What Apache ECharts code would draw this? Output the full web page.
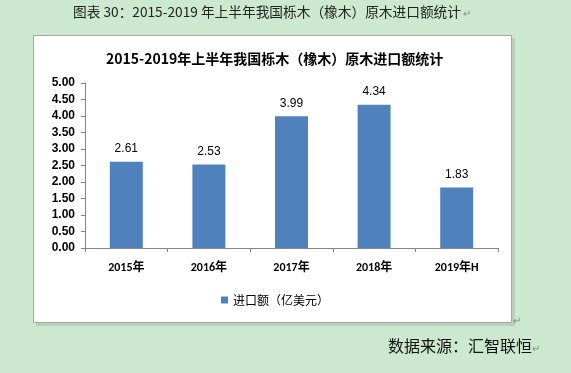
<!DOCTYPE html>
<html><head><meta charset="utf-8">
<script src="https://cdn.jsdelivr.net/npm/echarts@6/dist/echarts.min.js"></script>
<style>html,body{margin:0;padding:0;background:#cce8cf;}#c{width:571px;height:373px;}</style>
</head><body><div id="c"></div>
<script>
const categories = ['2015年','2016年','2017年','2018年','2019年H'];
const values = [2.61, 2.53, 3.99, 4.34, 1.83];
const seriesName = '进口额（亿美元）';
const chartTitle = '2015-2019年上半年我国栎木（橡木）原木进口额统计';
const caption = '图表 30：2015-2019 年上半年我国栎木（橡木）原木进口额统计';
const source = '数据来源：汇智联恒';
const yMin = 0, yMax = 5, yStep = 0.5;

const cjk = '"Noto Sans CJK SC", sans-serif';
const chart = echarts.init(document.getElementById('c'), null, {renderer:'canvas'});
chart.setOption({
  backgroundColor: '#cce8cf',
  animation: false,
  graphic: [
    {type:'rect', shape:{x:36, y:38, width:479, height:288}, style:{fill:'#b9cfbb'}, z:-2},
    {type:'rect', shape:{x:33.5, y:35.5, width:478, height:287}, style:{fill:'#ffffff', stroke:'#a6a6a6', lineWidth:1}, z:-1},
    {type:'text', left:73, top:5, style:{text:caption, font:'13.7px ' + cjk, fill:'#222'}},
    {type:'text', left:463, top:8, style:{text:'↵', font:'10px ' + cjk, fill:'#8a8a8a'}},
    {type:'text', left:388, top:338, style:{text:source, font:'16px ' + cjk, fill:'#111'}},
    {type:'text', left:532, top:343, style:{text:'↵', font:'10px ' + cjk, fill:'#8a8a8a'}},
    {type:'text', left:513, top:315, style:{text:'↵', font:'10px ' + cjk, fill:'#8a8a8a'}}
  ],
  title: {
    text: chartTitle, left: 101, top: 47,
    textStyle: {fontFamily: cjk, fontSize: 14, fontWeight: 'bold', color: '#000'}
  },
  grid: {left: 85, right: 73, top: 83, bottom: 125, containLabel: false},
  legend: {
    bottom: 62, left: 216, itemWidth: 7, itemHeight: 7, itemGap: 4,
    icon: 'rect',
    textStyle: {fontFamily: cjk, fontSize: 12, color: '#000'},
    data: [seriesName]
  },
  xAxis: {
    type: 'category', data: categories,
    axisLine: {lineStyle: {color: '#868686'}},
    axisTick: {show: true, length: 4, lineStyle: {color: '#868686'}},
    axisLabel: {fontFamily: 'Calibri, "Liberation Sans", ' + cjk, fontSize: 12, fontWeight: 'bold', color: '#000', margin: 14}
  },
  yAxis: {
    type: 'value', min: yMin, max: yMax, interval: yStep,
    axisLine: {show: true, lineStyle: {color: '#868686'}},
    axisTick: {show: true, length: 4, lineStyle: {color: '#868686'}},
    splitLine: {show: false},
    axisLabel: {fontFamily: '"Liberation Sans", sans-serif', fontSize: 12, fontWeight: 'bold', color: '#000', margin: 10,
      formatter: v => v.toFixed(2)}
  },
  series: [{
    name: seriesName, type: 'bar', data: values, barWidth: 33,
    itemStyle: {color: '#4f81bd'},
    label: {show: true, position: 'top', distance: 7, fontFamily: '"Liberation Sans", sans-serif', fontSize: 12, color: '#000',
      formatter: p => p.value.toFixed(2)}
  }]
});
</script></body></html>
